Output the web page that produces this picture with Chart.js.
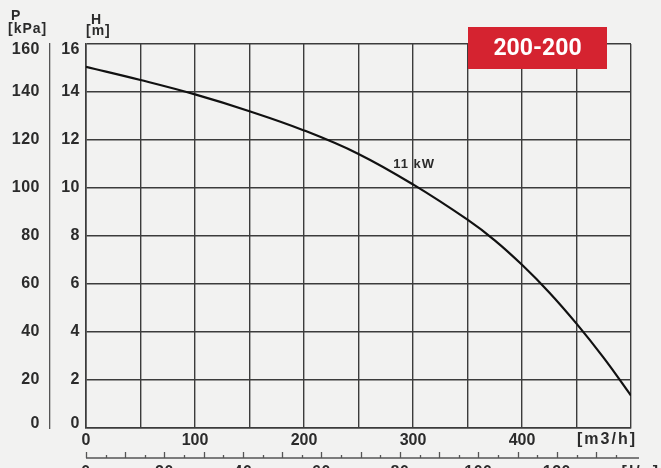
<!DOCTYPE html>
<html>
<head>
<meta charset="utf-8">
<script src="https://cdn.jsdelivr.net/npm/chart.js@4"></script>
<style>
  body { margin: 0; background: #f2f2f1; }
  canvas { display: block; }
</style>
</head>
<body>
<canvas id="pumpChart" width="661" height="468"></canvas>
<script>
// pump curve 200-200, 11 kW
const flow = [0, 50, 100, 150, 200, 250, 300, 350, 375, 400, 425, 450, 475, 500];                   // m3/h
const head = [15.05, 14.5, 13.9, 13.2, 12.4, 11.42, 10.15, 8.68, 7.82, 6.8, 5.65, 4.35, 2.92, 1.35]; // m
const flowLabels = [0, 100, 200, 300, 400];
const headLabels = [0, 2, 4, 6, 8, 10, 12, 14, 16];
const kpaLabels = [0, 20, 40, 60, 80, 100, 120, 140, 160];
const lsLabels = [0, 20, 40, 60, 80, 100, 120];
const lsTicks = [0, 5, 10, 15, 20, 25, 30, 35, 40, 45, 50, 55, 60, 65, 70, 75, 80, 85, 90, 95, 100, 105, 110, 115, 120, 125, 130, 135];
const modelName = '200-200';
const powerLabel = '11 kW';
const powerAt = [301, 11.0];

const textColor = '#2b2b2b';
const gridColor = '#3c3c3c';
const font = 'Liberation Sans';

const extras = {
    id: 'extras',
    afterDraw(chart) {
        const ctx = chart.ctx;
        const x = chart.scales.x;
        const y = chart.scales.y;
        const p = chart.scales.p;
        const area = chart.chartArea;
        ctx.save();
        ctx.fillStyle = textColor;

        // axis titles
        ctx.font = 'bold 14px ' + font;
        ctx.textAlign = 'left';
        ctx.textBaseline = 'alphabetic';
        ctx.letterSpacing = '1px';
        ctx.fillText('P', 11, 20);
        ctx.fillText('H', 91, 24);
        ctx.fillText('[kPa]', 8, 33);
        ctx.fillText('[m]', 86, 35);

        // y tick labels, end ones kept inside the plot height
        ctx.font = 'bold 16px ' + font;
        ctx.letterSpacing = '0.5px';
        ctx.textAlign = 'right';
        ctx.textBaseline = 'middle';
        const clampY = py => Math.min(Math.max(py, area.top + 6), area.bottom - 4);
        headLabels.forEach(v => ctx.fillText(String(v), 80, clampY(y.getPixelForValue(v))));
        kpaLabels.forEach(v => ctx.fillText(String(v), 40, clampY(p.getPixelForValue(v))));

        // unit on flow axis
        ctx.letterSpacing = '2px';
        ctx.textAlign = 'right';
        ctx.textBaseline = 'top';
        ctx.fillText('[m3/h]', area.right + 6, area.bottom + 4);

        // second flow scale in l/s
        const ry = 458;
        ctx.strokeStyle = '#555';
        ctx.lineWidth = 1.3;
        ctx.beginPath();
        ctx.moveTo(x.getPixelForValue(0), ry);
        ctx.lineTo(area.right + 8, ry);
        ctx.stroke();
        lsTicks.forEach(v => {
            const px = Math.round(x.getPixelForValue(v * 3.6)) + 0.5;
            const len = v % 10 === 0 ? 6 : 3;
            ctx.beginPath();
            ctx.moveTo(px, ry);
            ctx.lineTo(px, ry - len);
            ctx.stroke();
        });
        ctx.letterSpacing = '0.5px';
        ctx.textAlign = 'center';
        ctx.textBaseline = 'top';
        lsLabels.forEach(v => {
            ctx.fillText(String(v), x.getPixelForValue(v * 3.6), 465);
        });
        ctx.letterSpacing = '2px';
        ctx.textAlign = 'right';
        ctx.fillText('[l/s]', 660, 465);

        // power label on curve
        ctx.font = 'bold 13px ' + font;
        ctx.letterSpacing = '1px';
        ctx.textAlign = 'center';
        ctx.textBaseline = 'middle';
        ctx.fillText(powerLabel, x.getPixelForValue(powerAt[0]), y.getPixelForValue(powerAt[1]));

        // model badge
        const bw = 139, bh = 42;
        const bx = area.right - 24 - bw;
        const by = 27;
        ctx.fillStyle = '#d52330';
        ctx.fillRect(bx, by, bw, bh);
        ctx.fillStyle = '#ffffff';
        ctx.font = 'bold 23px Roboto';
        ctx.letterSpacing = '0px';
        ctx.textAlign = 'center';
        ctx.textBaseline = 'middle';
        ctx.fillText(modelName, bx + bw / 2, by + bh / 2 + 1);
        ctx.restore();
    }
};

new Chart(document.getElementById('pumpChart'), {
    type: 'line',
    data: {
        datasets: [{
            label: powerLabel,
            data: flow.map((q, i) => ({ x: q, y: head[i] })),
            borderColor: '#111',
            borderWidth: 2.2,
            pointRadius: 0,
            fill: false,
            tension: 0.4
        }]
    },
    options: {
        responsive: false,
        animation: false,
        devicePixelRatio: 1,
        layout: { padding: { top: 44, right: 30, left: 0, bottom: 0 } },
        plugins: {
            legend: { display: false },
            tooltip: { enabled: false }
        },
        scales: {
            x: {
                type: 'linear',
                min: 0,
                max: 500,
                afterFit: s => { s.height = 40; },
                grid: { color: gridColor, lineWidth: 1.4, drawTicks: false },
                border: { color: gridColor, width: 1.6 },
                ticks: {
                    stepSize: 50,
                    padding: 3,
                    maxRotation: 0,
                    autoSkip: false,
                    color: textColor,
                    font: { family: font, size: 16, weight: 'bold' },
                    callback: v => flowLabels.includes(v) ? String(v) : ''
                }
            },
            y: {
                position: 'left',
                weight: 0,
                min: 0,
                max: 16,
                afterFit: s => { s.width = 36; },
                grid: { color: gridColor, lineWidth: 1.4, drawTicks: false },
                border: { color: gridColor, width: 1.6 },
                ticks: { stepSize: 2, display: false }
            },
            p: {
                position: 'left',
                weight: 1,
                min: 0,
                max: 160,
                afterFit: s => { s.width = 50; },
                grid: { display: false },
                border: { display: true, color: '#555', width: 1.3 },
                ticks: { stepSize: 20, display: false }
            }
        }
    },
    plugins: [extras]
});
</script>
</body>
</html>
